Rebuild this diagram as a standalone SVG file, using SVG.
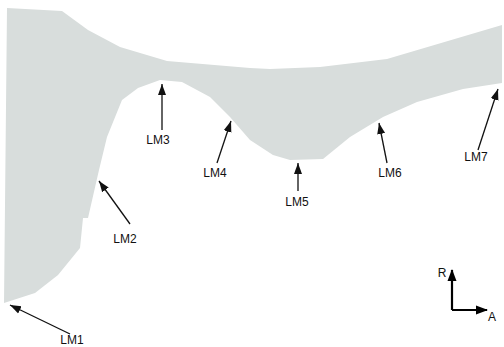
<svg xmlns="http://www.w3.org/2000/svg" width="504" height="347" viewBox="0 0 504 347">
<defs>
<style>
.lbl{font-family:"Liberation Sans",Arial,sans-serif;font-size:12px;fill:#111;text-anchor:middle}
.ar{stroke:#111;stroke-width:1.3;fill:none;marker-end:url(#ah)}
.ax{stroke:#000;stroke-width:2.2;fill:none}
</style>
<marker id="ah" markerUnits="userSpaceOnUse" markerWidth="12" markerHeight="10" viewBox="0 0 12 10" refX="11" refY="5" orient="auto">
<path d="M0,1 L11,5 L0,9 Z" fill="#111"/>
</marker>
<marker id="axh" markerUnits="userSpaceOnUse" markerWidth="12" markerHeight="10" viewBox="0 0 12 10" refX="11" refY="5" orient="auto">
<path d="M0,0.5 L12,5 L0,9.5 Z" fill="#000"/>
</marker>
</defs>
<g id="bone">
<polygon fill="#d8dddc" points="7,8 62,11 88,30 120,47 167,61 250,68 270,69 320,67 387,59 502,25 502,83 463,89 417,102 383,117 350,137 323,159 290,160 273,155 250,140 230,117 210,97 182,82 160,80 138,88 122,100 107,137 99,170 88,218 83,218 80,248 58,275 35,293 4,303"/>
</g>
<g id="connectors">
<line class="ar" x1="70" y1="334" x2="10" y2="305"/>
<line class="ar" x1="130" y1="224" x2="99" y2="181"/>
<line class="ar" x1="162" y1="130" x2="162" y2="84"/>
<line class="ar" x1="217" y1="163" x2="231" y2="121"/>
<line class="ar" x1="298" y1="191" x2="298" y2="163"/>
<line class="ar" x1="387" y1="163" x2="379" y2="123"/>
<line class="ar" x1="478" y1="150" x2="498" y2="89"/>
</g>
<g id="labels">
<text class="lbl" x="72" y="344">LM1</text>
<text class="lbl" x="125" y="243">LM2</text>
<text class="lbl" x="158" y="144">LM3</text>
<text class="lbl" x="215" y="177">LM4</text>
<text class="lbl" x="297" y="206">LM5</text>
<text class="lbl" x="390" y="177">LM6</text>
<text class="lbl" x="476" y="161">LM7</text>
</g>
<g id="axes">
<path class="ax" d="M452,310 L487,310" marker-end="url(#axh)"/>
<path class="ax" d="M452,310 L452,270" marker-end="url(#axh)"/>
<text class="lbl" x="442" y="277">R</text>
<text class="lbl" x="492" y="321">A</text>
</g>
</svg>
